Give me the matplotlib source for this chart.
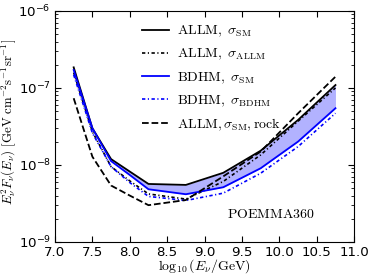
import matplotlib
matplotlib.use('Agg')
import matplotlib.pyplot as plt
from matplotlib.font_manager import FontProperties

# energies (log10 E/GeV)
logE = [7.25, 7.5, 7.75, 8.0, 8.25, 8.75, 9.25, 9.75, 10.25, 10.75]

allm_sm = [1.85e-7, 3.0e-8, 1.19e-8, 8.2e-9, 5.66e-9, 5.5e-9, 7.9e-9, 1.53e-8, 3.84e-8, 1.09e-7]
allm_allm = [1.58e-7, 2.7e-8, 9.5e-9, 6.2e-9, 4.2e-9, 3.6e-9, 6.1e-9, 1.35e-8, 3.7e-8, 1.0e-7]
bdhm_sm = [1.71e-7, 3.0e-8, 1.12e-8, 7.4e-9, 4.83e-9, 4.16e-9, 5.13e-9, 9.05e-9, 2.01e-8, 5.45e-8]
bdhm_bdhm = [1.48e-7, 2.6e-8, 9.5e-9, 5.9e-9, 3.9e-9, 3.45e-9, 4.3e-9, 7.8e-9, 1.73e-8, 4.69e-8]
allm_rock = [7.35e-8, 1.28e-8, 5.4e-9, 4.0e-9, 3.0e-9, 3.5e-9, 7.1e-9, 1.49e-8, 4.68e-8, 1.4e-7]

cm = FontProperties(math_fontfamily='cm', size=10)
cm_y = FontProperties(math_fontfamily='cm', size=9.3)

fig = plt.figure(figsize=(3.74, 2.8), dpi=100)
ax = fig.add_axes([0.147, 0.136, 0.8, 0.825])

ax.fill_between(logE, bdhm_sm, allm_sm, color='b', alpha=0.3, linewidth=0)
ax.plot(logE, allm_sm, c='k', lw=1.3, label=r'$\mathrm{ALLM},\ \sigma_{\mathrm{SM}}$')
ax.plot(logE, allm_allm, c='k', lw=1.2, dashes=(2, 1.5, 0.7, 1.5),
        label=r'$\mathrm{ALLM},\ \sigma_{\mathrm{ALLM}}$')
ax.plot(logE, bdhm_sm, c='b', lw=1.3, label=r'$\mathrm{BDHM},\ \sigma_{\mathrm{SM}}$')
ax.plot(logE, bdhm_bdhm, c='b', lw=1.2, dashes=(2, 1.5, 0.7, 1.5),
        label=r'$\mathrm{BDHM},\ \sigma_{\mathrm{BDHM}}$')
ax.plot(logE, allm_rock, c='k', lw=1.3, ls='--',
        label=r'$\mathrm{ALLM}, \sigma_{\mathrm{SM}}, \mathrm{rock}$')

ax.set_yscale('log')
ax.set_xlim(7.0, 11.0)
ax.set_ylim(1e-9, 1e-6)
ax.set_xticks([7.0, 7.5, 8.0, 8.5, 9.0, 9.5, 10.0, 10.5, 11.0])
ax.tick_params(which='both', direction='in', top=True, right=True, labelsize=9.6)
ax.tick_params(which='major', length=4, pad=3)
ax.tick_params(which='minor', length=2)

ax.set_xlabel(r'$\log_{10}(E_\nu/\mathrm{GeV})$', fontproperties=cm, labelpad=-1)
ax.set_ylabel(r'$E_\nu^2 F_\nu(E_\nu)\ [\mathrm{GeV\ cm^{-2} s^{-1} sr^{-1}}]$',
              fontproperties=cm_y)
ax.yaxis.set_label_coords(-0.122, 0.52)

ax.text(0.72, 0.12, r'$\mathrm{POEMMA360}$', transform=ax.transAxes,
        fontproperties=cm, ha='center', va='center')

ax.legend(loc='upper left', bbox_to_anchor=(0.25, 1.0), frameon=False, prop=cm,
          handlelength=1.9, labelspacing=0.55, handletextpad=0.6)

plt.savefig('out.png', dpi=100)
